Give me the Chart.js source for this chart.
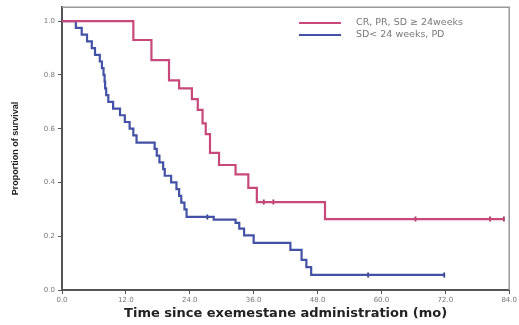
<!DOCTYPE html>
<html>
<head>
<meta charset="utf-8">
<script src="https://cdn.jsdelivr.net/npm/chart.js@4"></script>
<style>
  html, body { margin: 0; padding: 0; background: #fff; }
  #wrap { position: relative; width: 519px; height: 325px; }
</style>
</head>
<body>
<div id="wrap"><canvas id="c"></canvas></div>
<script>
// Kaplan-Meier steps (time in months, proportion surviving)
const goodLabel = 'CR, PR, SD \u2265 24weeks';
const goodTime = [0, 13.4, 16.8, 20.1, 22.0, 24.4, 25.5, 26.4, 27.0, 27.8, 29.5, 32.6, 35.0, 36.6, 49.4, 83.0];
const goodSurv = [1.0, 0.93, 0.855, 0.78, 0.75, 0.71, 0.67, 0.62, 0.58, 0.51, 0.465, 0.43, 0.38, 0.327, 0.264, 0.264];
const goodCensTime = [37.9, 39.7, 66.4, 80.4, 83.0];
const goodCensSurv = [0.327, 0.327, 0.264, 0.264, 0.264];

const poorLabel = 'SD< 24 weeks, PD';
const poorTime = [0, 2.6, 3.7, 4.7, 5.6, 6.2, 7.1, 7.5, 7.8, 8.0, 8.1, 8.3, 8.7, 9.6, 10.9, 11.8, 12.7, 13.4, 14.0,
  17.4, 17.8, 18.3, 19.0, 19.3, 20.5, 21.5, 22.0, 22.4, 23.0, 23.4, 28.5, 32.6, 33.3, 34.2, 36.0, 42.9, 45.0, 45.9, 46.8, 71.8];
const poorSurv = [1.0, 0.975, 0.95, 0.925, 0.90, 0.875, 0.85, 0.825, 0.80, 0.775, 0.75, 0.725, 0.70, 0.675, 0.65, 0.625, 0.60, 0.575, 0.548,
  0.525, 0.50, 0.475, 0.45, 0.425, 0.40, 0.375, 0.35, 0.325, 0.30, 0.272, 0.262, 0.25, 0.228, 0.203, 0.175, 0.149, 0.112, 0.085, 0.056, 0.056];
const poorCensTime = [27.3, 57.5, 71.8];
const poorCensSurv = [0.272, 0.056, 0.056];

const xTicks = [0, 12, 24, 36, 48, 60, 72, 84];
const yTicks = [0.0, 0.2, 0.4, 0.6, 0.8, 1.0];

const pink = '#c9487c';
const blue = '#4352a6';

const pts = (xs, ys) => xs.map((x, i) => ({x, y: ys[i]}));

// top/right frame and the little legend in the corner
const decor = {
  id: 'decor',
  afterDraw(chart) {
    const {ctx, chartArea: a} = chart;
    ctx.save();
    ctx.strokeStyle = '#9a9a9a';
    ctx.lineWidth = 1.5;
    ctx.beginPath();
    ctx.moveTo(a.left, a.top);
    ctx.lineTo(a.right, a.top);
    ctx.lineTo(a.right, a.bottom);
    ctx.stroke();

    const rows = [[goodLabel, pink, 23], [poorLabel, blue, 35]];
    ctx.font = '9.5px "DejaVu Sans"';
    ctx.textBaseline = 'middle';
    rows.forEach(([txt, col, y]) => {
      ctx.strokeStyle = col;
      ctx.lineWidth = 2;
      ctx.beginPath();
      ctx.moveTo(299, y);
      ctx.lineTo(341, y);
      ctx.stroke();
      ctx.fillStyle = '#777';
      ctx.fillText(txt, 356, y);
    });
    ctx.restore();
  }
};

new Chart(document.getElementById('c'), {
  type: 'line',
  data: {
    datasets: [
      {label: goodLabel, data: pts(goodTime, goodSurv), stepped: true, borderColor: pink, borderWidth: 2.2, pointRadius: 0, fill: false},
      {label: poorLabel, data: pts(poorTime, poorSurv), stepped: true, borderColor: blue, borderWidth: 2.2, pointRadius: 0, fill: false},
      {label: 'good censored', data: pts(goodCensTime, goodCensSurv), showLine: false, pointStyle: 'line', rotation: 90,
        pointRadius: 2.5, borderColor: '#9a3560', borderWidth: 1.8},
      {label: 'poor censored', data: pts(poorCensTime, poorCensSurv), showLine: false, pointStyle: 'line', rotation: 90,
        pointRadius: 2.5, borderColor: '#2c3a80', borderWidth: 1.8}
    ]
  },
  options: {
    responsive: true,
    maintainAspectRatio: false,
    animation: false,
    layout: {padding: {left: 0, top: 7, right: 8, bottom: 0}},
    plugins: {legend: {display: false}, tooltip: {enabled: false}},
    scales: {
      x: {
        type: 'linear', min: 0, max: 84,
        afterBuildTicks: s => { s.ticks = xTicks.map(v => ({value: v})); },
        afterFit: s => { s.height = 35; },
        ticks: {callback: v => v.toFixed(1), font: {family: 'DejaVu Sans', size: 7}, color: '#777', padding: 2, maxRotation: 0},
        grid: {drawOnChartArea: false, tickLength: 4, color: '#555'},
        border: {color: '#555', width: 2},
        title: {display: true, text: 'Time since exemestane administration (mo)', color: '#222',
          font: {family: 'DejaVu Sans', size: 13, weight: 'bold'}, padding: {top: 0, bottom: 4}}
      },
      y: {
        min: 0, max: 1.052,
        afterBuildTicks: s => { s.ticks = yTicks.map(v => ({value: v})); },
        afterFit: s => { s.width = 62; },
        ticks: {callback: v => v.toFixed(1), font: {family: 'DejaVu Sans', size: 7}, color: '#777', padding: 3},
        grid: {drawOnChartArea: false, tickLength: 4, color: '#555'},
        border: {color: '#555', width: 2},
        title: {display: true, text: 'Proportion of survival', color: '#222',
          font: {family: 'Liberation Sans', size: 9, weight: 'bold'}, padding: {top: 10, bottom: 0}}
      }
    }
  },
  plugins: [decor]
});
</script>
</body>
</html>
